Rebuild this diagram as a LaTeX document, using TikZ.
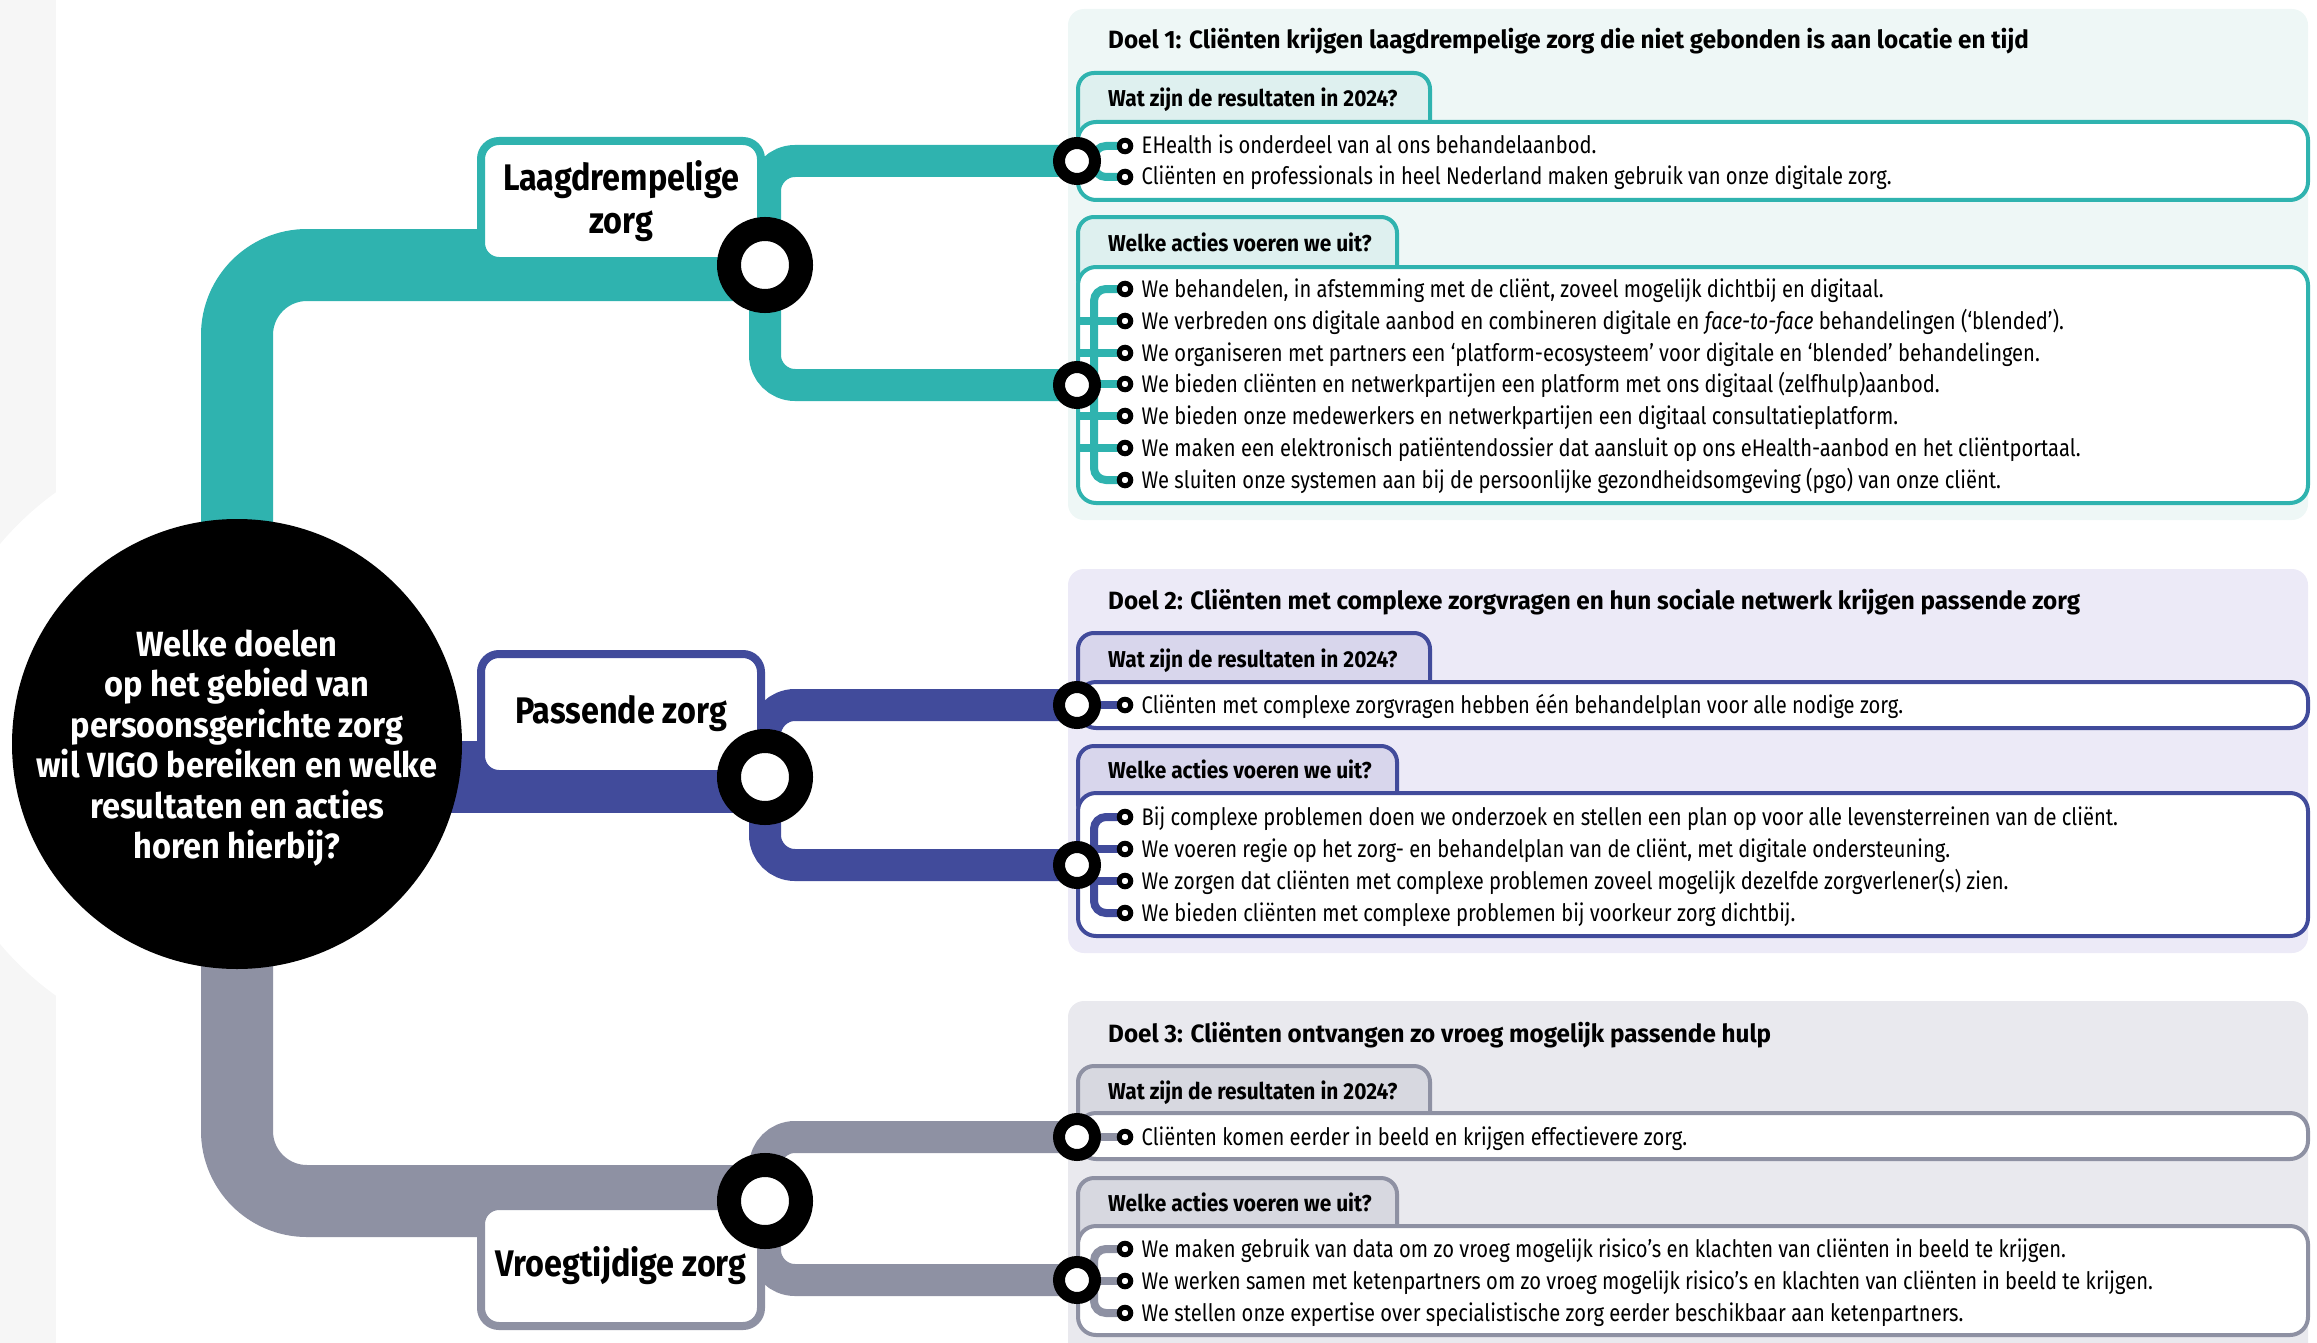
\documentclass[tikz,border=0pt]{standalone}
\usepackage{fontspec}
\setmainfont{Fira Sans}[FakeStretch=0.84]
\newfontfamily\vgTitleFam{Fira Sans}[FakeStretch=0.97]
\newfontfamily\vgTabFam{Fira Sans}[FakeStretch=0.91]
\newfontfamily\vgQFam{Fira Sans}[FakeStretch=0.93]
\newfontfamily\vgCatFam{Fira Sans}[FakeStretch=0.875]
\usetikzlibrary{calc}
\definecolor{cTeal}{HTML}{2FB3AF}
\definecolor{cBlue}{HTML}{414B9B}
\definecolor{cGray}{HTML}{8E91A3}
\definecolor{pTeal}{HTML}{EEF7F6}
\definecolor{tTeal}{HTML}{DEF0EF}
\definecolor{pBlue}{HTML}{ECEAF7}
\definecolor{tBlue}{HTML}{D8D6EC}
\definecolor{pGray}{HTML}{E9E9EE}
\definecolor{tGray}{HTML}{D7D8E0}
\definecolor{stripGray}{HTML}{F6F6F6}
\newcommand\vgCat{\vgCatFam\bfseries\fontsize{37}{43}\selectfont}
\newcommand\vgQ{\vgQFam\bfseries\fontsize{35}{40.4}\selectfont}
\newcommand\vgTitle{\vgTitleFam\bfseries\fontsize{25}{30}\selectfont}
\newcommand\vgTab{\vgTabFam\bfseries\fontsize{23}{27}\selectfont}
\newcommand\vgItem{\fontsize{24}{28}\selectfont}
\pgfdeclarelayer{back}
\pgfdeclarelayer{links}
\pgfsetlayers{back,links,main}
\tikzset{
  trunk/.style={line width=72pt, rounded corners=70pt},
  branch/.style={line width=32pt, rounded corners=30pt},
  stub/.style={line width=8pt, rounded corners=12pt},
  bigring/.style={circle, draw=black, line width=24pt, fill=white, minimum size=72pt, inner sep=0pt},
  smallring/.style={circle, draw=black, line width=12pt, fill=white, minimum size=36pt, inner sep=0pt},
  bullet/.style={circle, draw=black, line width=5pt, fill=white, minimum size=11.5pt, inner sep=0pt},
  catbox/.style={draw=#1, line width=8pt, fill=white, rounded corners=18pt, minimum width=280pt, minimum height=120pt, inner sep=0pt, align=center, font=\vgCat},
  panelbg/.style={fill=#1, rounded corners=16pt},
  tabshape/.style={draw=#1, line width=4pt, rounded corners=16pt},
  boxshape/.style={draw=#1, fill=white, line width=4pt, rounded corners=18pt},
  title/.style={anchor=base west, inner sep=0pt, font=\vgTitle},
  tablabel/.style={anchor=base west, inner sep=0pt, font=\vgTab},
  item/.style={anchor=base west, inner sep=0pt, font=\vgItem},
}
\begin{document}
\begin{tikzpicture}[x=1pt,y=-1pt]
\useasboundingbox (0,0) rectangle (2317,1343);

\begin{pgfonlayer}{back}
  \fill[stripGray] (0,0) rectangle (56,1343);
  \fill[white] (237,744) circle[radius=310pt];
  % panel 1
  \path[panelbg=pTeal] (1068,9) rectangle (2308,520);
  \path[tabshape=cTeal, fill=tTeal] (1078,73) rectangle (1430,150);
  \path[boxshape=cTeal] (1078,122) rectangle (2308,200);
  \path[tabshape=cTeal, fill=tTeal] (1078,217) rectangle (1397,295);
  \path[boxshape=cTeal] (1078,267) rectangle (2308,503);
  % panel 2
  \path[panelbg=pBlue] (1068,569) rectangle (2308,953);
  \path[tabshape=cBlue, fill=tBlue] (1078,633) rectangle (1430,710);
  \path[boxshape=cBlue] (1078,682) rectangle (2308,728);
  \path[tabshape=cBlue, fill=tBlue] (1078,746) rectangle (1397,820);
  \path[boxshape=cBlue] (1078,793) rectangle (2308,936);
  % panel 3
  \path[panelbg=pGray] (1068,1001) rectangle (2308,1370);
  \path[tabshape=cGray, fill=tGray] (1078,1066) rectangle (1430,1140);
  \path[boxshape=cGray] (1078,1113) rectangle (2308,1159);
  \path[tabshape=cGray, fill=tGray] (1078,1178) rectangle (1397,1255);
  \path[boxshape=cGray] (1078,1226) rectangle (2308,1335);
\end{pgfonlayer}

% central question
\node[circle, fill=black, minimum size=450pt, inner sep=0pt] (q) at (237,744) {};
\node[text=white, align=center, font=\vgQ, inner sep=0pt] (qtext) at ($(q.center)+(0,4)$)
  {Welke doelen\\op het gebied van\\persoonsgerichte zorg\\wil VIGO bereiken en welke\\resultaten en acties\\horen hierbij?};

% category boxes
\node[catbox=cTeal] (c1) at (621,201) {Laagdrempelige\\zorg};
\node[catbox=cBlue] (c2) at (621,714) {Passende zorg};
\node[catbox=cGray] (c3) at (621,1266) {Vroegtijdige zorg};

% big rings
\node[bigring] (r1) at (765,265) {};
\node[bigring] (r2) at (765,777) {};
\node[bigring] (r3) at (765,1201) {};

% small rings
\node[smallring] (s1a) at (1077,161) {};
\node[smallring] (s1b) at (1077,385) {};
\node[smallring] (s2a) at (1077,705) {};
\node[smallring] (s2b) at (1077,865) {};
\node[smallring] (s3a) at (1077,1137) {};
\node[smallring] (s3b) at (1077,1280) {};

% titles and tabs
\node[title] (t1) at (1108,49) {Doel 1: Cliënten krijgen laagdrempelige zorg die niet gebonden is aan locatie en tijd};
\node[tablabel] (t1r) at (1108,107) {Wat zijn de resultaten in 2024?};
\node[tablabel] (t1a) at (1108,251) {Welke acties voeren we uit?};
\node[title] (t2) at (1108,609) {Doel 2: Cliënten met complexe zorgvragen en hun sociale netwerk krijgen passende zorg};
\node[tablabel] (t2r) at (1108,667) {Wat zijn de resultaten in 2024?};
\node[tablabel] (t2a) at (1108,778) {Welke acties voeren we uit?};
\node[title] (t3) at (1108,1042) {Doel 3: Cliënten ontvangen zo vroeg mogelijk passende hulp};
\node[tablabel] (t3r) at (1108,1099) {Wat zijn de resultaten in 2024?};
\node[tablabel] (t3a) at (1108,1211) {Welke acties voeren we uit?};

% bullets panel 1
\node[bullet] (b1r1) at (1125,146) {};
\node[bullet] (b1r2) at (1125,177) {};
\node[bullet] (b1a1) at (1125,289) {};
\node[bullet] (b1a2) at (1125,321) {};
\node[bullet] (b1a3) at (1125,353) {};
\node[bullet] (b1a4) at (1125,384) {};
\node[bullet] (b1a5) at (1125,416) {};
\node[bullet] (b1a6) at (1125,448) {};
\node[bullet] (b1a7) at (1125,480) {};
% bullets panel 2
\node[bullet] (b2r1) at (1125,705) {};
\node[bullet] (b2a1) at (1125,817) {};
\node[bullet] (b2a2) at (1125,849) {};
\node[bullet] (b2a3) at (1125,881) {};
\node[bullet] (b2a4) at (1125,913) {};
% bullets panel 3
\node[bullet] (b3r1) at (1125,1137) {};
\node[bullet] (b3a1) at (1125,1249) {};
\node[bullet] (b3a2) at (1125,1281) {};
\node[bullet] (b3a3) at (1125,1313) {};

% item texts
\node[item] at ($(b1r1.center)+(16.5,8)$) {EHealth is onderdeel van al ons behandelaanbod.};
\node[item] at ($(b1r2.center)+(16.5,8)$) {Cliënten en professionals in heel Nederland maken gebruik van onze digitale zorg.};
\node[item] at ($(b1a1.center)+(16.5,8)$) {We behandelen, in afstemming met de cliënt, zoveel mogelijk dichtbij en digitaal.};
\node[item] at ($(b1a2.center)+(16.5,8)$) {We verbreden ons digitale aanbod en combineren digitale en \textit{face-to-face} behandelingen (‘blended’).};
\node[item] at ($(b1a3.center)+(16.5,8)$) {We organiseren met partners een ‘platform-ecosysteem’ voor digitale en ‘blended’ behandelingen.};
\node[item] at ($(b1a4.center)+(16.5,8)$) {We bieden cliënten en netwerkpartijen een platform met ons digitaal (zelfhulp)aanbod.};
\node[item] at ($(b1a5.center)+(16.5,8)$) {We bieden onze medewerkers en netwerkpartijen een digitaal consultatieplatform.};
\node[item] at ($(b1a6.center)+(16.5,8)$) {We maken een elektronisch patiëntendossier dat aansluit op ons eHealth-aanbod en het cliëntportaal.};
\node[item] at ($(b1a7.center)+(16.5,8)$) {We sluiten onze systemen aan bij de persoonlijke gezondheidsomgeving (pgo) van onze cliënt.};
\node[item] at ($(b2r1.center)+(16.5,8)$) {Cliënten met complexe zorgvragen hebben één behandelplan voor alle nodige zorg.};
\node[item] at ($(b2a1.center)+(16.5,8)$) {Bij complexe problemen doen we onderzoek en stellen een plan op voor alle levensterreinen van de cliënt.};
\node[item] at ($(b2a2.center)+(16.5,8)$) {We voeren regie op het zorg- en behandelplan van de cliënt, met digitale ondersteuning.};
\node[item] at ($(b2a3.center)+(16.5,8)$) {We zorgen dat cliënten met complexe problemen zoveel mogelijk dezelfde zorgverlener(s) zien.};
\node[item] at ($(b2a4.center)+(16.5,8)$) {We bieden cliënten met complexe problemen bij voorkeur zorg dichtbij.};
\node[item] at ($(b3r1.center)+(16.5,8)$) {Cliënten komen eerder in beeld en krijgen effectievere zorg.};
\node[item] at ($(b3a1.center)+(16.5,8)$) {We maken gebruik van data om zo vroeg mogelijk risico’s en klachten van cliënten in beeld te krijgen.};
\node[item] at ($(b3a2.center)+(16.5,8)$) {We werken samen met ketenpartners om zo vroeg mogelijk risico’s en klachten van cliënten in beeld te krijgen.};
\node[item] at ($(b3a3.center)+(16.5,8)$) {We stellen onze expertise over specialistische zorg eerder beschikbaar aan ketenpartners.};

\begin{pgfonlayer}{links}
  % trunks
  \draw[trunk, cTeal] (q.center) |- (r1.center);
  \draw[trunk, cBlue] (q.center |- r2.center) -- (r2.center);
  \draw[trunk, cGray] (q.center) |- (r3.center);
  % branches
  \draw[branch, cTeal] (r1.center) |- (s1a.center);
  \draw[branch, cTeal] (r1.center) |- (s1b.center);
  \draw[branch, cBlue] (r2.center) |- (s2a.center);
  \draw[branch, cBlue] (r2.center) |- (s2b.center);
  \draw[branch, cGray] (r3.center) |- (s3a.center);
  \draw[branch, cGray] (r3.center) |- (s3b.center);
  % stubs panel 1
  \draw[stub, cTeal] (b1r1.center) -| ($(s1a.center)+(17,0)$) |- (b1r2.center);
  \draw[stub, cTeal] (b1a1.center) -| ($(s1b.center)+(17,0)$) |- (b1a7.center);
  \foreach \k in {2,...,6} \draw[stub, cTeal] (s1b.center |- b1a\k.center) -- (b1a\k.center);
  % stubs panel 2
  \draw[stub, cBlue] (s2a.center) -- (b2r1.center);
  \draw[stub, cBlue] (b2a1.center) -| ($(s2b.center)+(17,0)$) |- (b2a4.center);
  \foreach \k in {2,3} \draw[stub, cBlue] (s2b.center |- b2a\k.center) -- (b2a\k.center);
  % stubs panel 3
  \draw[stub, cGray] (s3a.center) -- (b3r1.center);
  \draw[stub, cGray] (b3a1.center) -| ($(s3b.center)+(17,0)$) |- (b3a3.center);
  \draw[stub, cGray] (s3b.center |- b3a2.center) -- (b3a2.center);
\end{pgfonlayer}
\end{tikzpicture}
\end{document}
